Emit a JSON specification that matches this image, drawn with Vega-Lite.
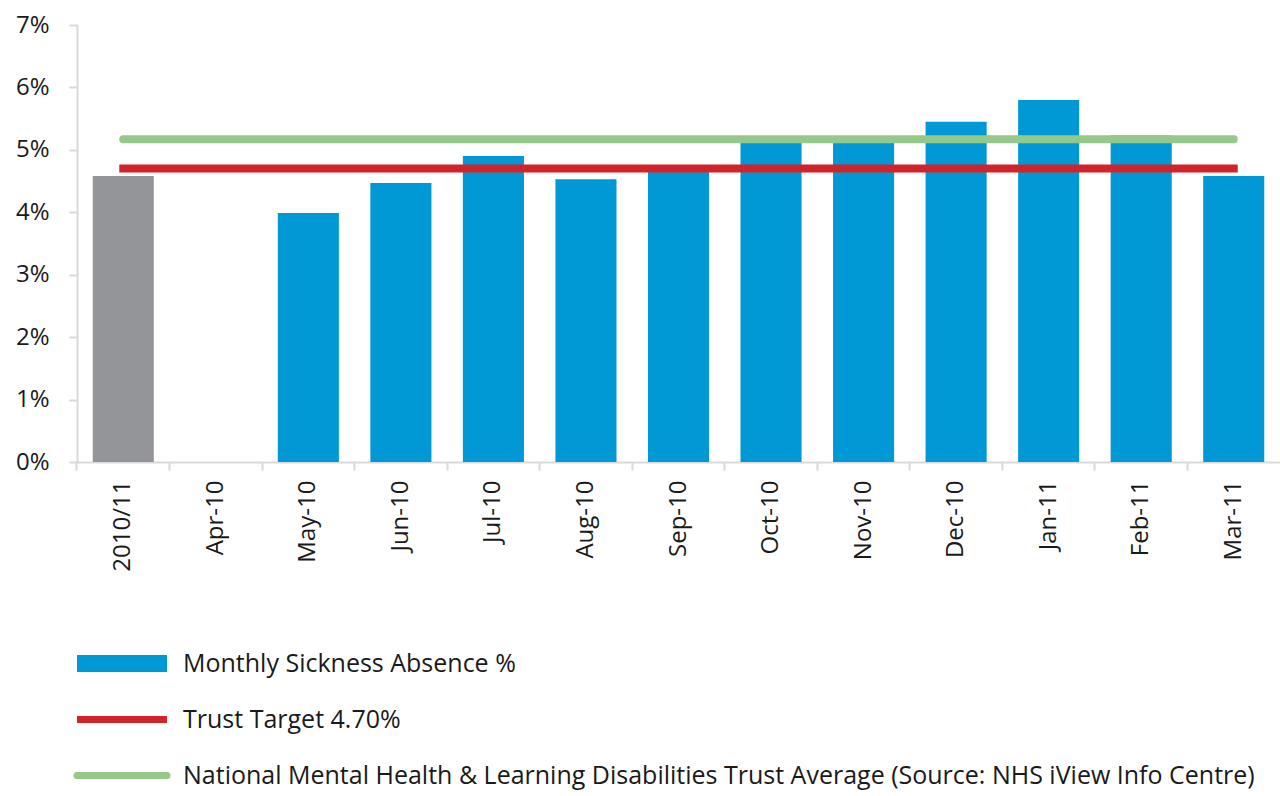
{
  "$schema": "https://vega.github.io/schema/vega-lite/v6.json",
  "width": 1203,
  "height": 437,
  "autosize": {"type": "none"},
  "padding": {"left": 77, "top": 25, "right": 0, "bottom": 334},
  "background": "white",
  "config": {
    "font": "Open Sans",
    "view": {"stroke": null},
    "axis": {"labelFont": "Open Sans", "labelColor": "#1a1a1a", "labelFontSize": 24, "domainColor": "#d9d9d9", "domainWidth": 2, "tickColor": "#d9d9d9", "tickWidth": 2, "tickSize": 8, "grid": false, "title": null}
  },
  "datasets": {
    "bars": [
      {"month": "2010/11", "series": "Monthly Sickness Absence %", "value": 4.58},
      {"month": "Apr-10", "series": "Monthly Sickness Absence %", "value": null},
      {"month": "May-10", "series": "Monthly Sickness Absence %", "value": 3.99},
      {"month": "Jun-10", "series": "Monthly Sickness Absence %", "value": 4.47},
      {"month": "Jul-10", "series": "Monthly Sickness Absence %", "value": 4.90},
      {"month": "Aug-10", "series": "Monthly Sickness Absence %", "value": 4.53},
      {"month": "Sep-10", "series": "Monthly Sickness Absence %", "value": 4.65},
      {"month": "Oct-10", "series": "Monthly Sickness Absence %", "value": 5.15},
      {"month": "Nov-10", "series": "Monthly Sickness Absence %", "value": 5.15},
      {"month": "Dec-10", "series": "Monthly Sickness Absence %", "value": 5.45},
      {"month": "Jan-11", "series": "Monthly Sickness Absence %", "value": 5.80},
      {"month": "Feb-11", "series": "Monthly Sickness Absence %", "value": 5.23},
      {"month": "Mar-11", "series": "Monthly Sickness Absence %", "value": 4.58}
    ],
    "target": [
      {"month": "2010/11", "series": "Trust Target 4.70%", "value": 4.7},
      {"month": "Mar-11", "series": "Trust Target 4.70%", "value": 4.7}
    ],
    "national": [
      {"month": "2010/11", "series": "National Mental Health & Learning Disabilities Trust Average (Source: NHS iView Info Centre)", "value": 5.17},
      {"month": "Mar-11", "series": "National Mental Health & Learning Disabilities Trust Average (Source: NHS iView Info Centre)", "value": 5.17}
    ]
  },
  "encoding": {
    "x": {
      "field": "month", "type": "nominal", "sort": null,
      "scale": {"domain": ["2010/11","Apr-10","May-10","Jun-10","Jul-10","Aug-10","Sep-10","Oct-10","Nov-10","Dec-10","Jan-11","Feb-11","Mar-11"], "paddingInner": 0.34, "paddingOuter": 0.17},
      "axis": {"labelAngle": -90, "labelPadding": 10, "bandPosition": -0.2576}
    },
    "y": {
      "field": "value", "type": "quantitative",
      "scale": {"domain": [0, 7], "nice": false},
      "axis": {"values": [0,1,2,3,4,5,6,7], "labelExpr": "datum.value + '%'", "labelPadding": 20}
    }
  },
  "layer": [
    {
      "data": {"name": "bars"},
      "mark": {"type": "bar"},
      "encoding": {
        "color": {
          "condition": {"test": "datum.month === '2010/11'", "value": "#939598"},
          "field": "series", "type": "nominal",
          "scale": {
            "domain": ["Monthly Sickness Absence %", "Trust Target 4.70%", "National Mental Health & Learning Disabilities Trust Average (Source: NHS iView Info Centre)"],
            "range": ["#0099d6", "#d2232a", "#95c98a"]
          },
          "legend": {
            "orient": "none", "legendX": 0, "legendY": 626, "title": null, "padding": 0,
            "gridAlign": "all",
            "symbolType": "stroke", "symbolSize": 8100, "symbolStrokeWidth": 7,
            "labelFont": "Open Sans", "labelFontSize": 25, "labelColor": "#1a1a1a", "labelLimit": 1200,
            "labelOffset": 16, "rowPadding": 7,
            "encode": {
              "symbols": {
                "update": {
                  "x": {"value": 45},
                  "stroke": {"signal": "datum.value === 'Monthly Sickness Absence %' ? '#0099d6' : datum.value === 'Trust Target 4.70%' ? '#d2232a' : '#95c98a'"},
                  "strokeWidth": {"signal": "datum.value === 'Monthly Sickness Absence %' ? 17 : 7"},
                  "strokeCap": {"signal": "datum.value === 'National Mental Health & Learning Disabilities Trust Average (Source: NHS iView Info Centre)' ? 'round' : 'butt'"},
                  "fill": {"value": "transparent"}
                }
              },
              "labels": {
                "update": {
                  "x": {"value": 106}
                }
              }
            }
          }
        }
      }
    },
    {
      "data": {"name": "target"},
      "mark": {"type": "line", "strokeWidth": 8, "strokeCap": "square"},
      "encoding": {
        "color": {"field": "series", "type": "nominal"}
      }
    },
    {
      "data": {"name": "national"},
      "mark": {"type": "line", "strokeWidth": 8, "strokeCap": "round"},
      "encoding": {
        "color": {"field": "series", "type": "nominal"}
      }
    }
  ],
  "resolve": {"scale": {"color": "shared"}}
}
